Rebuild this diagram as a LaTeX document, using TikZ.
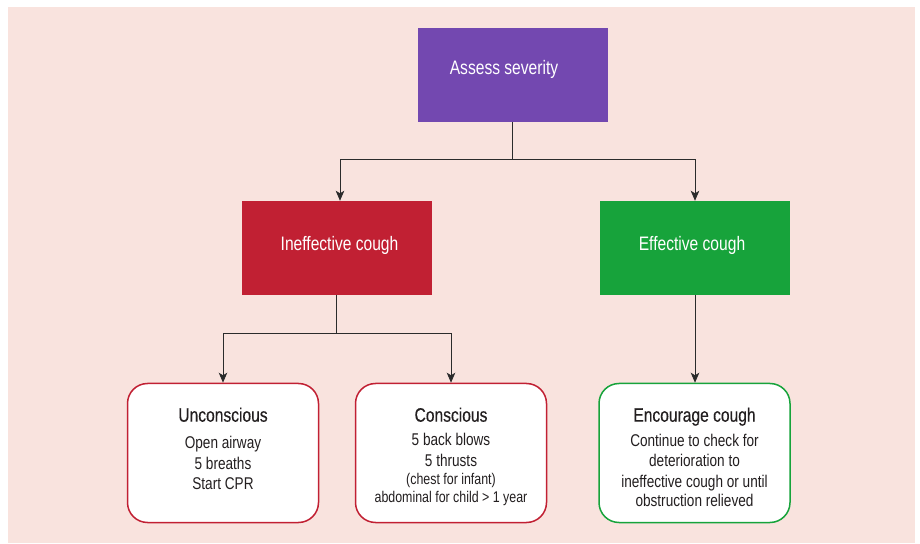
\documentclass[tikz,border=0pt]{standalone}
\usepackage{fontspec}
\setmainfont{Liberation Sans}[FakeStretch=0.8]
\newfontfamily\titlefont{Liberation Sans}[FakeStretch=0.8, FakeBold=0.3]
\usetikzlibrary{arrows.meta}
\definecolor{bgpink}{HTML}{F9E3DE}
\definecolor{cpurple}{HTML}{7348B0}
\definecolor{cred}{HTML}{C12033}
\definecolor{cgreen}{HTML}{17A33B}
\definecolor{cline}{HTML}{2B2B2B}
\definecolor{ctext}{HTML}{231F20}
\begin{document}
\begin{tikzpicture}[x=1pt,y=1pt,
  headbox/.style={rectangle, draw=none, inner sep=0pt, minimum width=190pt, minimum height=94pt},
  headtxt/.style={text=white, font=\fontsize{19.5}{23}\selectfont, anchor=base, inner sep=0pt},
  leafbox/.style={rectangle, rounded corners=20pt, fill=white, line width=1.5pt, minimum width=191pt, minimum height=139pt, inner sep=0pt},
  leaftitle/.style={text=ctext, font=\titlefont\fontsize{19.5}{23}\selectfont, anchor=base, inner sep=0pt},
  leafline/.style={text=ctext, font=\fontsize{17}{20}\selectfont, anchor=base, inner sep=0pt},
  leafsmall/.style={text=ctext, font=\fontsize{15.5}{18}\selectfont, anchor=base, inner sep=0pt},
  conn/.style={draw=cline, line width=1pt},
  arr/.style={conn, -{Stealth[length=10pt,width=8.5pt,inset=2.5pt]}}
]
\useasboundingbox (0,0) rectangle (920,543);
\fill[white] (0,0) rectangle (920,543);
\fill[bgpink] (8,0) rectangle (915,536);

% top level
\node[headbox, fill=cpurple] (assess) at (512.5,468) {};
\node[headtxt] (assesst) at (504,468) {Assess severity};

% second level
\node[headbox, fill=cred] (ineff) at (336.5,295) {};
\node[headtxt] (innefft) at (339.5,292) {Ineffective cough};
\node[headbox, fill=cgreen] (eff) at (695,295) {};
\node[headtxt] (efft) at (692,292) {Effective cough};

% leaves
\node[leafbox, draw=cred] (uncon) at (223,90) {};
\node[leafbox, draw=cred] (cons) at (451,90) {};
\node[leafbox, draw=cgreen] (enc) at (694.5,90) {};

\node[leaftitle] (unct) at (223,121.3) {Unconscious};
\node[leafline] (unc1) at (223,94) {Open airway};
\node[leafline] (unc2) at (223,73.7) {5 breaths};
\node[leafline] (unc3) at (223,53) {Start CPR};

\node[leaftitle] (const) at (451,121.3) {Conscious};
\node[leafline] (cons1) at (451,97) {5 back blows};
\node[leafline] (cons2) at (451,76.3) {5 thrusts};
\node[leafsmall] (cons3) at (451,58) {(chest for infant)};
\node[leafsmall] (cons4) at (451,40.3) {abdominal for child > 1 year};

\node[leaftitle] (enct) at (694.5,121.3) {Encourage cough};
\node[leafline] (enc1) at (694.5,96.3) {Continue to check for};
\node[leafline] (enc2) at (694.5,76.3) {deterioration to};
\node[leafline] (enc3) at (694.5,55.7) {ineffective cough or until};
\node[leafline] (enc4) at (694.5,36.3) {obstruction relieved};

% connectors
\draw[arr] (assess.south) -- ++(0,-37) -| ([xshift=3.5pt]ineff.north);
\draw[arr] (assess.south) -- ++(0,-37) -| (eff.north);
\draw[arr] (ineff.south) -- ++(0,-38) -| (uncon.north);
\draw[arr] (ineff.south) -- ++(0,-38) -| (cons.north);
\draw[arr] (eff.south) -- (eff.south |- enc.north);
\end{tikzpicture}
\end{document}
